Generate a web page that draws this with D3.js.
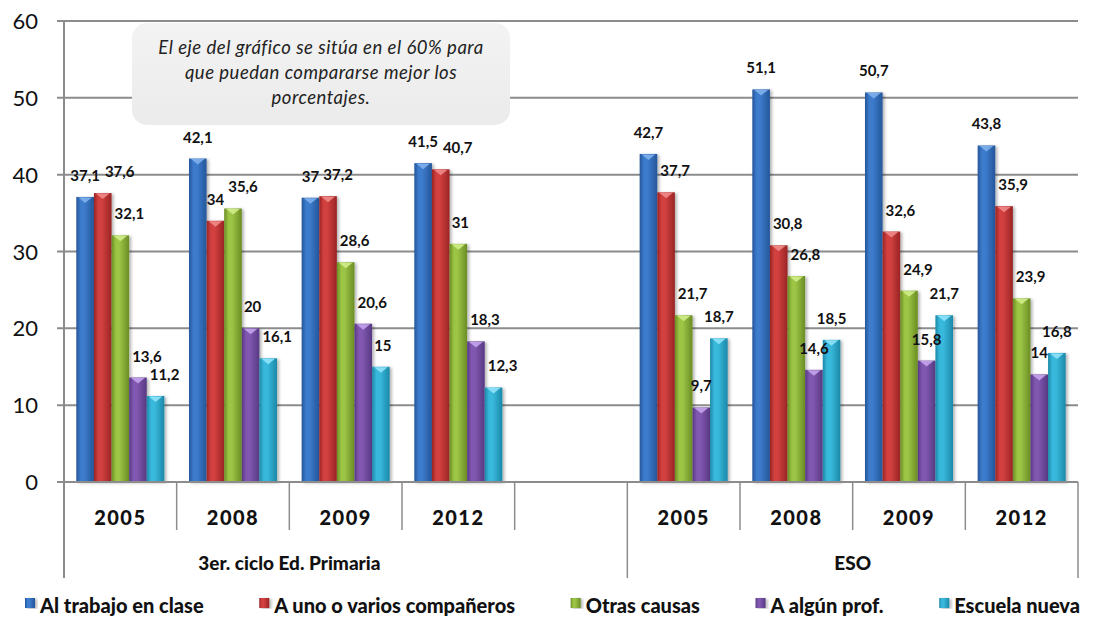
<!DOCTYPE html>
<html>
<head>
<meta charset="utf-8">
<script src="https://cdn.jsdelivr.net/npm/d3@7"></script>
<style>
  body { margin: 0; background: #fff; }
  svg { display: block; font-family: Lato, "Open Sans", sans-serif; }
  .grid line { stroke: #8c8c8c; stroke-width: 2; }
  .tick-label { font-size: 22px; fill: #111; }
  .value-label { font-size: 15px; font-weight: bold; fill: #111; }
  .year-label { font-size: 20px; font-weight: 900; fill: #111; letter-spacing: 1.5px; }
  .group-label { font-size: 19px; font-weight: 900; fill: #111; }
  .legend-label { font-size: 20px; font-weight: 900; fill: #111; }
  .note { font-size: 18.5px; font-style: italic; fill: #222; letter-spacing: 0.5px; }
</style>
</head>
<body>
<div id="chart"></div>
<script>
// ---- data ----
const years = ["2005", "2008", "2009", "2012"];
const groups = ["3er. ciclo Ed. Primaria", "ESO"];
const series = ["Al trabajo en clase", "A uno o varios compañeros", "Otras causas", "A algún prof.", "Escuela nueva"];
// order: Primaria 2005, 2008, 2009, 2012, ESO 2005, 2008, 2009, 2012
const trabajo    = [37.1, 42.1, 37,   41.5, 42.7, 51.1, 50.7, 43.8];
const companeros = [37.6, 34,   37.2, 40.7, 37.7, 30.8, 32.6, 35.9];
const otras      = [32.1, 35.6, 28.6, 31,   21.7, 26.8, 24.9, 23.9];
const profesor   = [13.6, 20,   20.6, 18.3, 9.7,  14.6, 15.8, 14];
const escuela    = [11.2, 16.1, 15,   12.3, 18.7, 18.5, 21.7, 16.8];
const yTicks = [0, 10, 20, 30, 40, 50, 60];
const note = ["El eje del gráfico se sitúa en el 60% para", "que puedan compararse mejor los", "porcentajes."];

const seriesValues = [trabajo, companeros, otras, profesor, escuela];
const colors = [
  { base: "#3d7bcc", dark: "#24569a", light: "#7fb0ec" },
  { base: "#d24040", dark: "#9a2424", light: "#f08a8a" },
  { base: "#9cc445", dark: "#6a8d24", light: "#d2ec8a" },
  { base: "#8158b0", dark: "#573983", light: "#c4a3ec" },
  { base: "#38b9dc", dark: "#1c88a8", light: "#8fe3f8" }
];

// slots: 4 years, an empty slot, 4 years
const slots = [...years.map(y => "P" + y), "gap", ...years.map(y => "E" + y)];
const dataSlots = slots.filter(s => s !== "gap");

const W = 1093, H = 619;
const plot = { left: 64, right: 1078, top: 21, bottom: 482 };

const svg = d3.select("#chart").append("svg")
  .attr("width", W).attr("height", H);

const defs = svg.append("defs");
colors.forEach((c, i) => {
  const g = defs.append("linearGradient").attr("id", "bar" + i)
    .attr("x1", "0%").attr("x2", "100%").attr("y1", "0%").attr("y2", "0%");
  g.append("stop").attr("offset", "0%").attr("stop-color", c.dark);
  g.append("stop").attr("offset", "25%").attr("stop-color", c.base);
  g.append("stop").attr("offset", "45%").attr("stop-color", c.base);
  g.append("stop").attr("offset", "100%").attr("stop-color", c.dark);
});
const noteGrad = defs.append("linearGradient").attr("id", "noteGrad")
  .attr("x1", "0%").attr("x2", "0%").attr("y1", "0%").attr("y2", "100%");
noteGrad.append("stop").attr("offset", "0%").attr("stop-color", "#f3f3f3");
noteGrad.append("stop").attr("offset", "100%").attr("stop-color", "#ebebeb");
const shadow = defs.append("filter").attr("id", "shadow").attr("x", "-20%").attr("y", "-5%").attr("width", "150%").attr("height", "115%");
shadow.append("feDropShadow").attr("dx", 2).attr("dy", 1).attr("stdDeviation", 1.5).attr("flood-color", "#000").attr("flood-opacity", 0.3);

// ---- scales ----
const x0 = d3.scaleBand().domain(slots).range([plot.left, plot.right]).paddingInner(0).paddingOuter(0);
const x1 = d3.scaleBand().domain(d3.range(series.length)).range([0, x0.bandwidth()]).paddingInner(0).paddingOuter(0.7);
const y = d3.scaleLinear().domain([0, 60]).range([plot.bottom, plot.top]);
const fmt = d3.formatLocale({ decimal: ",", thousands: ".", grouping: [3], currency: ["", "€"] }).format("~f");

// ---- gridlines ----
svg.append("g").attr("class", "grid")
  .selectAll("line").data(yTicks.filter(t => t > 0)).join("line")
  .attr("x1", plot.left - 7).attr("x2", plot.right)
  .attr("y1", d => y(d)).attr("y2", d => y(d));

svg.append("g").selectAll("text").data(yTicks).join("text")
  .attr("class", "tick-label")
  .attr("x", plot.left - 26).attr("y", d => y(d) + 8)
  .attr("text-anchor", "end")
  .text(d => d);

// ---- bars ----
const bars = [];
dataSlots.forEach((slot, gi) => {
  seriesValues.forEach((vals, si) => {
    const v = vals[gi];
    bars.push({
      gi, si, v,
      x: x0(slot) + x1(si),
      w: x1.bandwidth(),
      top: y(v)
    });
  });
});

const barG = svg.append("g");
barG.selectAll("rect").data(bars).join("rect")
  .attr("x", d => d.x).attr("width", d => d.w)
  .attr("y", d => d.top).attr("height", d => plot.bottom - d.top)
  .attr("fill", d => `url(#bar${d.si})`)
  .attr("filter", "url(#shadow)");

// bevel triangle on top
barG.selectAll("path").data(bars).join("path")
  .attr("d", d => `M${d.x + 2},${d.top + 0.5} L${d.x + d.w - 2},${d.top + 0.5} L${d.x + d.w / 2},${d.top + 6} Z`)
  .attr("fill", d => colors[d.si].light)
  .attr("opacity", 0.9);

// ---- x axis ----
svg.append("line")
  .attr("x1", plot.left - 7).attr("x2", plot.right)
  .attr("y1", plot.bottom).attr("y2", plot.bottom)
  .attr("stroke", "#8c8c8c").attr("stroke-width", 2);

// y axis line, running down to the group row
svg.append("line")
  .attr("x1", plot.left).attr("x2", plot.left)
  .attr("y1", plot.top).attr("y2", 578)
  .attr("stroke", "#8c8c8c").attr("stroke-width", 2);

const groupEdges = [plot.left, x0("E2005"), plot.right];
const yearEdges = slots.map(s => x0(s) + x0.bandwidth()).filter(x => !groupEdges.some(g => Math.abs(g - x) < 1));
svg.append("g").selectAll("line").data(yearEdges).join("line")
  .attr("x1", d => d).attr("x2", d => d)
  .attr("y1", plot.bottom).attr("y2", 530)
  .attr("stroke", "#8c8c8c").attr("stroke-width", 1.5);
svg.append("g").selectAll("line").data(groupEdges.slice(1)).join("line")
  .attr("x1", d => d).attr("x2", d => d)
  .attr("y1", plot.bottom).attr("y2", 578)
  .attr("stroke", "#8c8c8c").attr("stroke-width", 1.5);

svg.append("g").selectAll("text").data(dataSlots).join("text")
  .attr("class", "year-label")
  .attr("x", d => x0(d) + x0.bandwidth() / 2)
  .attr("y", 525)
  .attr("text-anchor", "middle")
  .text(d => d.slice(1));

const groupCenters = [
  (x0("P2005") + x0("P2012") + x0.bandwidth()) / 2,
  (x0("E2005") + x0("E2012") + x0.bandwidth()) / 2
];
svg.append("g").selectAll("text").data(groups).join("text")
  .attr("class", "group-label")
  .attr("x", (d, i) => groupCenters[i])
  .attr("y", 570)
  .attr("text-anchor", "middle")
  .text(d => d);

// ---- value labels, placed left to right and nudged clear of earlier labels ----
const labelG = svg.append("g");
const placed = [];
const overlaps = (a, b) => a.x0 < b.x1 && a.x1 > b.x0 && a.y0 < b.y1 && a.y1 > b.y0;
d3.range(dataSlots.length).forEach(gi => {
  const groupBars = bars.filter(b => b.gi === gi);
  groupBars.forEach(b => {
    const t = labelG.append("text")
      .attr("class", "value-label")
      .attr("text-anchor", "middle")
      .text(fmt(b.v));
    const tw = t.node().getComputedTextLength();
    const base = b.top - 16;
    const cx = b.x + b.w / 2;
    const boxAt = dx => ({ x0: cx + dx - tw / 2 - 2, x1: cx + dx + tw / 2 + 2, y0: base - 13, y1: base + 4 });
    const barBoxes = groupBars.filter(o => o !== b).map(o => ({ x0: o.x, x1: o.x + o.w, y0: o.top - 2, y1: plot.bottom }));
    let best = null;
    // first try to clear both labels and bars, then labels only
    [placed.concat(barBoxes), placed].some(obstacles => {
      for (let d = 0; d <= 24; d++) {
        const tries = d === 0 ? [0] : [d, -d];
        const ok = tries.find(dx => !obstacles.some(o => overlaps(boxAt(dx), o)));
        if (ok !== undefined) { best = ok; return true; }
      }
      return false;
    });
    if (best === null) best = 0;
    placed.push(boxAt(best));
    t.attr("x", cx + best).attr("y", base);
  });
});

// ---- note box ----
const noteG = svg.append("g");
noteG.append("rect")
  .attr("x", 132).attr("y", 23).attr("width", 378).attr("height", 102)
  .attr("rx", 15)
  .attr("fill", "url(#noteGrad)");
noteG.selectAll("text").data(note).join("text")
  .attr("class", "note")
  .attr("x", 321)
  .attr("y", (d, i) => 54 + i * 25)
  .attr("text-anchor", "middle")
  .text(d => d);

// ---- legend ----
const legend = svg.append("g");
const items = legend.selectAll("g").data(series).join("g");
items.append("rect")
  .attr("width", 10).attr("height", 10)
  .attr("y", 598)
  .attr("fill", (d, i) => `url(#bar${i})`)
  .attr("filter", "url(#shadow)");
items.append("text")
  .attr("class", "legend-label")
  .attr("y", 613)
  .attr("x", 15)
  .text(d => d);
const widths = [];
items.each(function() { widths.push(d3.select(this).select("text").node().getComputedTextLength() + 15); });
const legendLeft = 25, legendRight = 1080;
const gap = (legendRight - legendLeft - d3.sum(widths)) / (series.length - 1);
let lx = legendLeft;
items.each(function(d, i) {
  d3.select(this).attr("transform", `translate(${lx},0)`);
  lx += widths[i] + gap;
});
</script>
</body>
</html>
